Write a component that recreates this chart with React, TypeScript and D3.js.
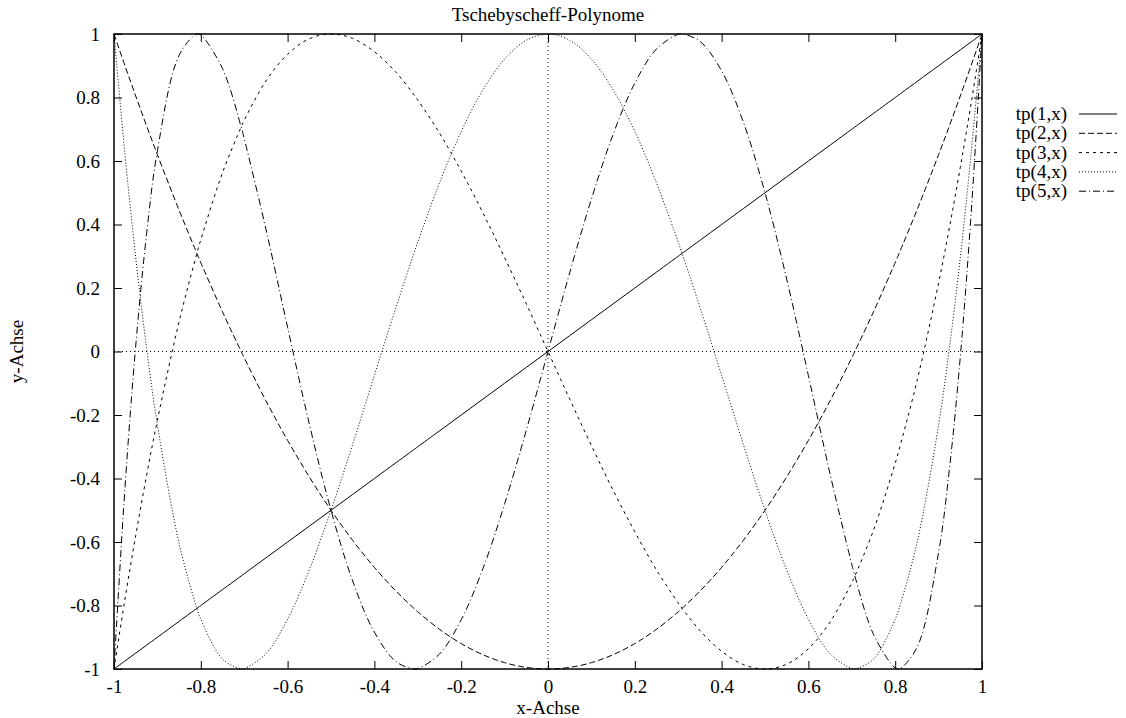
import React, { useEffect, useRef } from "react";
import * as d3 from "d3";

// sample positions along the x axis
const xs = [
  -1, -0.975, -0.95, -0.925, -0.9, -0.85, -0.809, -0.8, -0.75, -0.707, -0.7, -0.65, -0.6,
  -0.55, -0.5, -0.45, -0.4, -0.35, -0.309, -0.3, -0.25, -0.2, -0.15, -0.1, -0.05, 0,
  0.05, 0.1, 0.15, 0.2, 0.25, 0.3, 0.309, 0.35, 0.4, 0.45, 0.5, 0.55, 0.6, 0.65, 0.7,
  0.707, 0.75, 0.8, 0.809, 0.85, 0.9, 0.925, 0.95, 0.975, 1,
];

const tp1 = xs.slice();

const tp2 = [
  1, 0.901, 0.805, 0.711, 0.62, 0.445, 0.309, 0.28, 0.125, 0, -0.02, -0.155, -0.28,
  -0.395, -0.5, -0.595, -0.68, -0.755, -0.809, -0.82, -0.875, -0.92, -0.955, -0.98, -0.995, -1,
  -0.995, -0.98, -0.955, -0.92, -0.875, -0.82, -0.809, -0.755, -0.68, -0.595, -0.5, -0.395, -0.28, -0.155, -0.02,
  0, 0.125, 0.28, 0.309, 0.445, 0.62, 0.711, 0.805, 0.901, 1,
];

const tp3 = [
  -1, -0.782, -0.58, -0.391, -0.216, 0.094, 0.309, 0.352, 0.563, 0.707, 0.728, 0.852, 0.936,
  0.985, 1, 0.986, 0.944, 0.879, 0.809, 0.792, 0.688, 0.568, 0.437, 0.296, 0.15, 0,
  -0.15, -0.296, -0.437, -0.568, -0.688, -0.792, -0.809, -0.879, -0.944, -0.986, -1, -0.985, -0.936, -0.852, -0.728,
  -0.707, -0.563, -0.352, -0.309, -0.094, 0.216, 0.391, 0.58, 0.782, 1,
];

const tp4 = [
  1, 0.625, 0.296, 0.012, -0.231, -0.604, -0.809, -0.843, -0.969, -1, -0.999, -0.952, -0.843,
  -0.688, -0.5, -0.292, -0.075, 0.14, 0.309, 0.345, 0.531, 0.693, 0.824, 0.921, 0.98, 1,
  0.98, 0.921, 0.824, 0.693, 0.531, 0.345, 0.309, 0.14, -0.075, -0.292, -0.5, -0.688, -0.843, -0.952, -0.999,
  -1, -0.969, -0.843, -0.809, -0.604, -0.231, 0.012, 0.296, 0.625, 1,
];

const tp5 = [
  -1, -0.435, 0.017, 0.369, 0.632, 0.933, 1, 0.997, 0.891, 0.707, 0.671, 0.386, 0.076,
  -0.228, -0.5, -0.723, -0.884, -0.977, -1, -0.999, -0.953, -0.845, -0.684, -0.48, -0.248, 0,
  0.248, 0.48, 0.684, 0.845, 0.953, 0.999, 1, 0.977, 0.884, 0.723, 0.5, 0.228, -0.076, -0.386, -0.671,
  -0.707, -0.891, -0.997, -1, -0.933, -0.632, -0.369, -0.017, 0.435, 1,
];

const seriesNames = ["tp(1,x)", "tp(2,x)", "tp(3,x)", "tp(4,x)", "tp(5,x)"];
const seriesValues = [tp1, tp2, tp3, tp4, tp5];
const dashes = ["none", "6,3", "3,4", "1,2", "7,3,1,3"];

const xTicks = [-1, -0.8, -0.6, -0.4, -0.2, 0, 0.2, 0.4, 0.6, 0.8, 1];
const yTicks = [-1, -0.8, -0.6, -0.4, -0.2, 0, 0.2, 0.4, 0.6, 0.8, 1];

const FONT = "'Liberation Serif', 'Times New Roman', serif";
const FS = 19;

const App = () => {
  const svgRef = useRef<SVGSVGElement>(null);

  useEffect(() => {
    const svg = d3.select(svgRef.current);
    svg.selectAll("*").remove();

    const left = 114, right = 982, top = 34, bottom = 669;

    const x = d3.scaleLinear().domain([-1, 1]).range([left, right]);
    const y = d3.scaleLinear().domain([-1, 1]).range([bottom, top]);

    const g = svg.append("g").attr("font-family", FONT).attr("font-size", FS);

    // zero axes (dotted)
    g.append("line")
      .attr("x1", left).attr("x2", right)
      .attr("y1", y(0)).attr("y2", y(0))
      .attr("stroke", "#000").attr("stroke-dasharray", "1,3");
    g.append("line")
      .attr("x1", x(0)).attr("x2", x(0))
      .attr("y1", top).attr("y2", bottom)
      .attr("stroke", "#000").attr("stroke-dasharray", "1,3");

    // ticks on all four sides, pointing inward
    const tickLen = 8;
    const axisBottom = d3.axisBottom(x).tickValues(xTicks).tickSizeInner(-tickLen).tickSizeOuter(0)
      .tickPadding(10.5).tickFormat((d) => String(d));
    const axisTop = d3.axisTop(x).tickValues(xTicks).tickSizeInner(-tickLen).tickSizeOuter(0)
      .tickFormat(() => "");
    const axisLeft = d3.axisLeft(y).tickValues(yTicks).tickSizeInner(-tickLen).tickSizeOuter(0)
      .tickPadding(14).tickFormat((d) => String(d));
    const axisRight = d3.axisRight(y).tickValues(yTicks).tickSizeInner(-tickLen).tickSizeOuter(0)
      .tickFormat(() => "");

    const styleAxis = (sel: any) => {
      sel.select(".domain").remove();
      sel.selectAll("line").attr("stroke", "#000");
      sel.selectAll("text")
        .attr("font-family", FONT)
        .attr("font-size", FS)
        .attr("fill", "#000");
    };

    g.append("g").attr("transform", `translate(0,${bottom})`).call(axisBottom).call(styleAxis);
    g.append("g").attr("transform", `translate(0,${top})`).call(axisTop).call(styleAxis);
    g.append("g").attr("transform", `translate(${left},0)`).call(axisLeft).call(styleAxis);
    g.append("g").attr("transform", `translate(${right},0)`).call(axisRight).call(styleAxis);

    // curves
    const line = d3.line<number>()
      .x((_, i) => x(xs[i]))
      .y((d) => y(d))
      .curve(d3.curveCatmullRom.alpha(0.5));

    seriesValues.forEach((vals, k) => {
      g.append("path")
        .datum(vals)
        .attr("d", line)
        .attr("fill", "none")
        .attr("stroke", "#000")
        .attr("stroke-width", 1)
        .attr("stroke-dasharray", dashes[k]);
    });

    // frame
    g.append("rect")
      .attr("x", left).attr("y", top)
      .attr("width", right - left).attr("height", bottom - top)
      .attr("fill", "none").attr("stroke", "#000").attr("stroke-width", 1.5);

    // title and axis labels
    g.append("text")
      .attr("x", (left + right) / 2).attr("y", 21)
      .attr("text-anchor", "middle")
      .text("Tschebyscheff-Polynome");

    g.append("text")
      .attr("x", (left + right) / 2).attr("y", 713.5)
      .attr("text-anchor", "middle")
      .text("x-Achse");

    g.append("text")
      .attr("transform", `translate(23,${(top + bottom) / 2}) rotate(-90)`)
      .attr("text-anchor", "middle")
      .text("y-Achse");

    // legend
    const legend = g.selectAll(".legend")
      .data(seriesNames)
      .enter()
      .append("g")
      .attr("class", "legend")
      .attr("transform", (_, i) => `translate(0,${114 + i * 19.3})`);

    legend.append("text")
      .attr("x", 1067).attr("y", 6)
      .attr("text-anchor", "end")
      .text((d) => d);

    legend.append("line")
      .attr("x1", 1079).attr("x2", 1117)
      .attr("y1", 0).attr("y2", 0)
      .attr("stroke", "#000")
      .attr("stroke-dasharray", (_, i) => dashes[i]);
  }, []);

  return (
    <svg
      ref={svgRef}
      width={1126}
      height={718}
      style={{ position: "absolute", left: 0, top: 0, background: "#fff" }}
    ></svg>
  );
};

export default App;
